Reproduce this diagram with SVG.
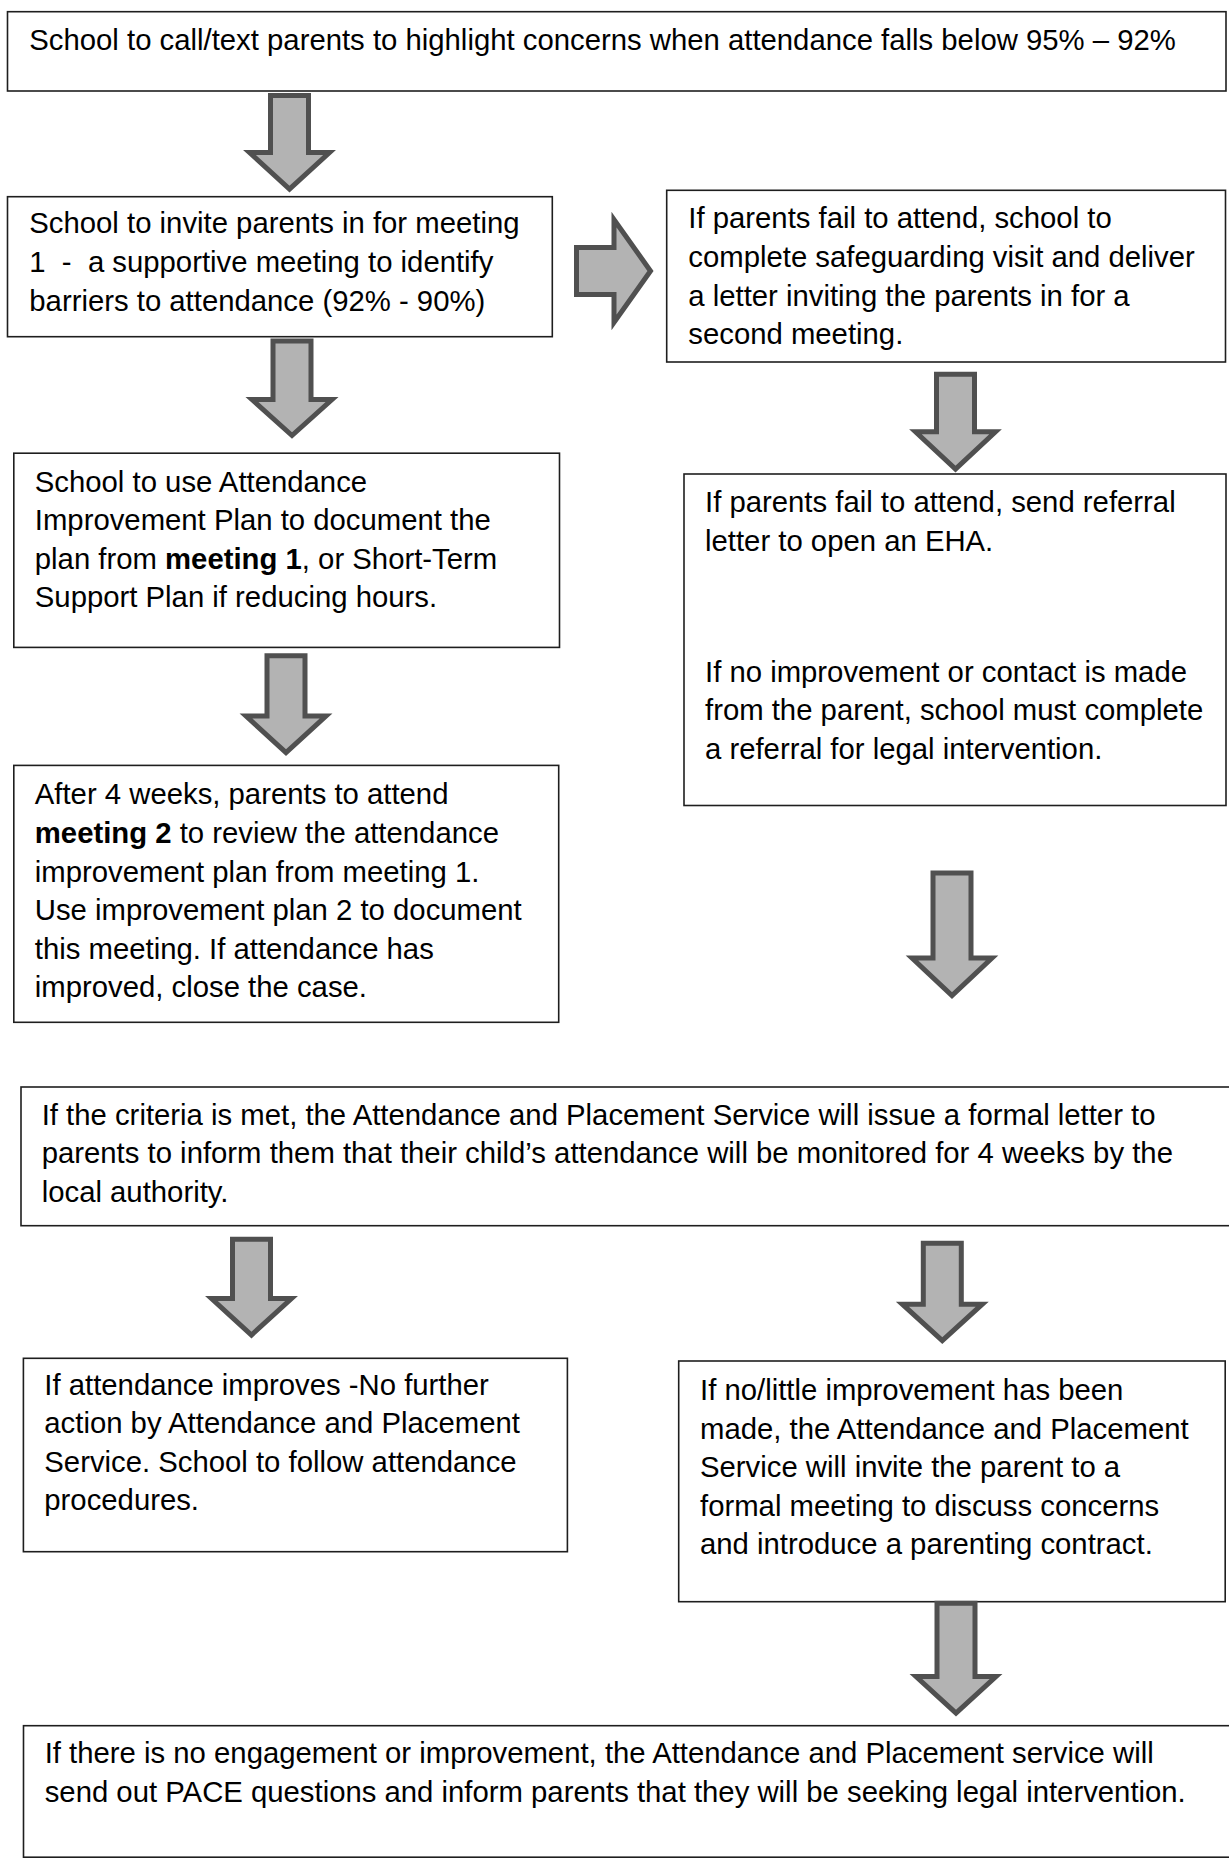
<svg xmlns="http://www.w3.org/2000/svg" width="1229" height="1860" viewBox="0 0 1229 1860">
<style>
.box{fill:#fff;stroke:#1e1e1e;stroke-width:1.6}
.t{font-family:"Liberation Sans",Arial,sans-serif;font-size:29.3px;fill:#000}
.b{font-weight:bold}
.arr{fill:#b3b3b3;stroke:#505050;stroke-width:5;stroke-linejoin:miter;stroke-miterlimit:10}
</style>
<rect width="1229" height="1860" fill="#fff"/>
<g id="n1">
<rect class="box" x="7.5" y="11.7" width="1218.5" height="79.3"/>
<text class="t" x="29.3" y="50">School to call/text parents to highlight concerns when attendance falls below 95% – 92%</text>
</g>
<g id="n2">
<rect class="box" x="7.5" y="196.7" width="544.8" height="140"/>
<text class="t" xml:space="preserve"><tspan x="29.3" y="233.3">School to invite parents in for meeting</tspan><tspan x="29.3" y="272">1  -  a supportive meeting to identify</tspan><tspan x="29.3" y="310.5">barriers to attendance (92% - 90%)</tspan></text>
</g>
<g id="n3">
<rect class="box" x="666.7" y="190.3" width="558.8" height="171.7"/>
<text class="t"><tspan x="688.3" y="228.3">If parents fail to attend, school to</tspan><tspan x="688.3" y="267">complete safeguarding visit and deliver</tspan><tspan x="688.3" y="305.5">a letter inviting the parents in for a</tspan><tspan x="688.3" y="344">second meeting.</tspan></text>
</g>
<g id="n4">
<rect class="box" x="13.8" y="453.2" width="545.7" height="194.2"/>
<text class="t"><tspan x="34.8" y="491.5">School to use Attendance</tspan><tspan x="34.8" y="530">Improvement Plan to document the</tspan><tspan x="34.8" y="568.5">plan from <tspan class="b">meeting 1</tspan>, or Short-Term</tspan><tspan x="34.8" y="607">Support Plan if reducing hours.</tspan></text>
</g>
<g id="n5">
<rect class="box" x="684" y="474" width="542" height="331.5"/>
<text class="t"><tspan x="705" y="511.7">If parents fail to attend, send referral</tspan><tspan x="705" y="550.5">letter to open an EHA.</tspan><tspan x="705" y="681.7">If no improvement or contact is made</tspan><tspan x="705" y="720.3">from the parent, school must complete</tspan><tspan x="705" y="759">a referral for legal intervention.</tspan></text>
</g>
<g id="n6">
<rect class="box" x="13.8" y="765.4" width="544.9" height="256.9"/>
<text class="t"><tspan x="34.8" y="804.4">After 4 weeks, parents to attend</tspan><tspan x="34.8" y="843"><tspan class="b">meeting 2</tspan> to review the attendance</tspan><tspan x="34.8" y="881.5">improvement plan from meeting 1.</tspan><tspan x="34.8" y="920">Use improvement plan 2 to document</tspan><tspan x="34.8" y="958.5">this meeting. If attendance has</tspan><tspan x="34.8" y="997">improved, close the case.</tspan></text>
</g>
<g id="n7">
<rect class="box" x="21" y="1087" width="1212" height="138.7"/>
<text class="t"><tspan x="41.7" y="1125">If the criteria is met, the Attendance and Placement Service will issue a formal letter to</tspan><tspan x="41.7" y="1163.3">parents to inform them that their child’s attendance will be monitored for 4 weeks by the</tspan><tspan x="41.7" y="1201.7">local authority.</tspan></text>
</g>
<g id="n8">
<rect class="box" x="23.4" y="1358.3" width="544" height="193.4"/>
<text class="t"><tspan x="44.3" y="1395">If attendance improves -No further</tspan><tspan x="44.3" y="1433.3">action by Attendance and Placement</tspan><tspan x="44.3" y="1471.7">Service. School to follow attendance</tspan><tspan x="44.3" y="1510">procedures.</tspan></text>
</g>
<g id="n9">
<rect class="box" x="678.7" y="1361" width="546.5" height="240.7"/>
<text class="t"><tspan x="700" y="1400">If no/little improvement has been</tspan><tspan x="700" y="1438.5">made, the Attendance and Placement</tspan><tspan x="700" y="1477">Service will invite the parent to a</tspan><tspan x="700" y="1515.5">formal meeting to discuss concerns</tspan><tspan x="700" y="1554">and introduce a parenting contract.</tspan></text>
</g>
<g id="n10">
<rect class="box" x="23.5" y="1725.7" width="1210" height="131.5"/>
<text class="t"><tspan x="44.7" y="1763.3">If there is no engagement or improvement, the Attendance and Placement service will</tspan><tspan x="44.7" y="1801.7">send out PACE questions and inform parents that they will be seeking legal intervention.</tspan></text>
</g>
<g id="connectors">
<path class="arr" d="M270.5,95.5 H308.5 V152.5 H329.5 L289.5,189 L249.5,152.5 H270.5 Z"/>
<path class="arr" d="M576.5,247.5 V294.5 H614 V322.5 L650.5,271 L614,219.5 V247.5 Z"/>
<path class="arr" d="M273,340.9 H311 V399.6 H332 L292,435.5 L252,399.6 H273 Z"/>
<path class="arr" d="M267,655.8 H305 V716 H326 L286,752.5 L246,716 H267 Z"/>
<path class="arr" d="M936.5,374.2 H974.5 V431.8 H995.5 L955.5,469 L915.5,431.8 H936.5 Z"/>
<path class="arr" d="M933,873 H971 V958 H992 L952,995.5 L912,958 H933 Z"/>
<path class="arr" d="M232.5,1239.2 H270.5 V1298.5 H291.5 L251.5,1335 L211.5,1298.5 H232.5 Z"/>
<path class="arr" d="M923.3,1243.2 H961.3 V1304.2 H982.3 L942.3,1340.7 L902.3,1304.2 H923.3 Z"/>
<path class="arr" d="M937,1603.2 H975 V1676.5 H996 L956,1713 L916,1676.5 H937 Z"/>
</g>
</svg>
